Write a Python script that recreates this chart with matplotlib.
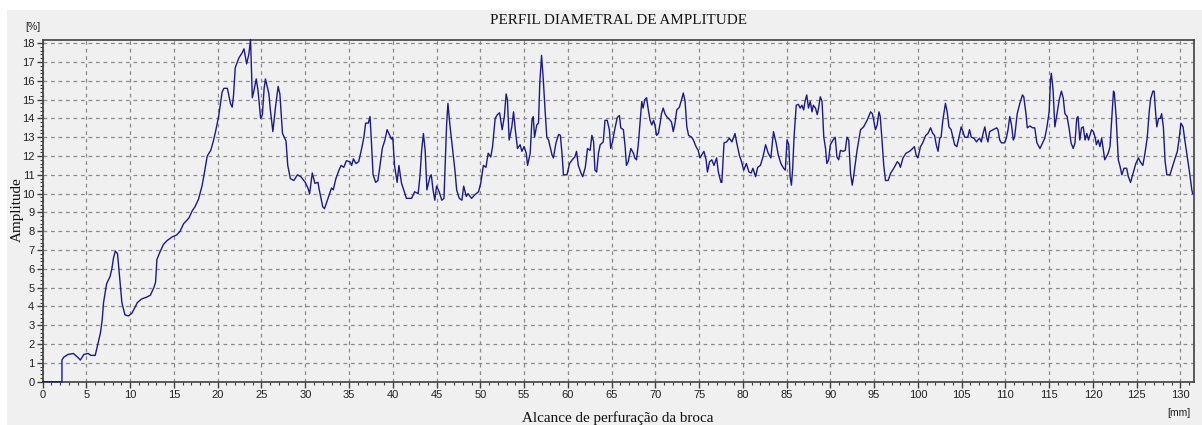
import matplotlib
matplotlib.use("Agg")
import matplotlib.pyplot as plt
from matplotlib.patches import Rectangle
from matplotlib.ticker import MultipleLocator

# drill reach [mm]
depth_mm = [
    0, 2.2, 2.2, 2.4, 2.9, 3.5, 4.0, 4.3, 4.7, 5.2, 5.5, 6.0, 6.2, 6.6, 6.8, 6.95, 7.3, 7.7, 7.9, 8.1,
    8.3, 8.55, 8.8, 9.05, 9.4, 9.8, 10.2, 10.6, 10.8, 11.3, 11.9, 12.3, 12.7, 12.9, 13.05, 13.4, 13.8,
    14.2, 14.8, 15.3, 15.7, 16.1, 16.7, 17.1, 17.4, 17.8, 18.2, 18.4, 18.8, 19.2, 19.5, 19.75, 20.1,
    20.5, 20.7, 21.1, 21.45, 21.65, 21.8, 22.0, 22.4, 22.8, 23.0, 23.3, 23.55, 23.75, 23.95, 24.1,
    24.4, 24.6, 24.9, 25.1, 25.3, 25.45, 25.85, 26.0, 26.3, 26.6, 26.9, 27.1, 27.4, 27.8, 28.0, 28.3,
    28.7, 29.1, 29.5,
    30.0, 30.3, 30.5, 30.8, 31.1, 31.45, 31.6, 32.0, 32.2, 32.6, 33.0, 33.2, 33.5, 33.85, 34.1, 34.4,
    34.7, 35.1, 35.3, 35.5, 35.8, 36.1, 36.4, 36.7, 36.9, 37.2, 37.4, 37.55, 37.75, 38.05, 38.3, 38.5,
    38.8, 39.1, 39.35, 39.65, 39.85, 40.0, 40.2, 40.5, 40.7, 41.0, 41.25, 41.55, 42.15, 42.5, 42.9,
    43.1, 43.3, 43.5, 43.7, 43.9, 44.25, 44.4, 44.6, 44.8, 45.0, 45.3, 45.6, 45.85, 46.15, 46.3,
    46.55, 46.8, 47.1, 47.3, 47.6, 47.9, 48.1, 48.4, 48.6, 49.0, 49.4, 49.8, 50.05, 50.35, 50.65,
    50.9, 51.2, 51.4, 51.7, 51.95, 52.2, 52.5, 52.75, 52.95, 53.1, 53.3, 53.6, 53.8, 54.0, 54.25,
    54.55, 54.75, 55.0, 55.25, 55.4, 55.7, 55.9, 56.05, 56.2, 56.45, 56.65, 56.8, 57.0, 57.2, 57.4,
    57.6, 57.8, 58.2, 58.35, 58.65, 58.95, 59.15, 59.35, 59.5, 59.9, 60.2, 60.5, 60.8, 61.0, 61.2,
    61.5, 61.7, 62.0, 62.25, 62.55, 62.75, 62.95, 63.1, 63.3, 63.5, 63.7,
    64.05, 64.25, 64.5, 64.75, 64.9, 65.1, 65.4, 65.65, 65.9, 66.05, 66.35, 66.55, 66.7, 66.9, 67.2,
    67.5, 67.65, 67.85, 68.05, 68.25, 68.45, 68.6, 68.8, 69.0, 69.2, 69.4, 69.6, 69.8, 69.95, 70.15,
    70.35, 70.55, 70.7, 70.9, 71.1, 71.3, 71.7, 71.85, 72.05, 72.25, 72.45, 72.75, 73.0, 73.2, 73.4,
    73.6, 73.8, 74.15, 74.35, 74.65, 74.9, 75.1, 75.3, 75.55, 75.8, 75.95, 76.2, 76.45, 76.7, 77.0,
    77.2, 77.5, 77.6, 77.85, 78.15, 78.45, 78.75, 78.95, 79.1, 79.3, 79.6, 79.85, 80.1, 80.4, 80.7,
    80.95, 81.15, 81.45, 81.7, 82.0, 82.3, 82.6, 82.9, 83.2, 83.5, 83.8, 84.05, 84.35, 84.65, 84.85,
    85.05, 85.25, 85.4, 85.55, 85.7, 85.85, 86.1, 86.35, 86.55, 86.75, 86.95, 87.1, 87.3, 87.5, 87.7,
    87.9, 88.05, 88.3, 88.5, 88.65, 88.85, 89.05, 89.25, 89.45, 89.6, 89.8, 90.0, 90.3, 90.55, 90.75,
    90.95, 91.15, 91.45, 91.7, 91.9, 92.1, 92.3, 92.5, 92.65, 93.05, 93.45, 93.8, 94.2, 94.6, 94.8,
    94.95, 95.15, 95.35, 95.55, 95.7, 95.9, 96.1, 96.3, 96.6, 96.9, 97.25, 97.65, 97.85, 98.0,
    98.3, 98.65, 99.05, 99.4, 99.6, 99.8, 100.0, 100.3, 100.55, 100.9, 101.15, 101.45, 101.7, 101.9,
    102.1, 102.3, 102.5, 102.65, 102.85, 103.15, 103.35, 103.55, 103.8, 104.0, 104.2, 104.45, 104.7,
    104.95, 105.15, 105.35, 105.55, 105.7, 105.9, 106.1, 106.4, 106.7, 106.85, 107.05, 107.25,
    107.45, 107.65, 107.85, 108.0, 108.2, 108.6, 109.0, 109.15, 109.35, 109.55, 109.9, 110.1, 110.3,
    110.5, 110.7, 110.9, 111.05, 111.35, 111.65, 111.95, 112.1, 112.35, 112.5, 112.8, 113.1, 113.35,
    113.6, 113.95, 114.25, 114.5, 114.75, 115.0, 115.15, 115.25, 115.45, 115.65, 115.85, 116.15,
    116.4, 116.6, 116.8, 117.05, 117.3, 117.5, 117.75, 117.95, 118.15, 118.3, 118.5, 118.7, 118.9,
    119.1, 119.3, 119.5, 119.65, 119.85, 120.05, 120.25, 120.4, 120.6, 120.8, 121.0, 121.2, 121.35,
    121.75, 121.95, 122.15, 122.35, 122.45, 122.65, 122.9, 123.1, 123.3, 123.55, 123.85, 124.05,
    124.3, 124.6, 124.9, 125.2, 125.4, 125.7, 125.95, 126.2, 126.45, 126.6, 126.85, 127.0, 127.1,
    127.3, 127.5, 127.7, 127.85, 128.05, 128.25, 128.45, 128.8, 129.1, 129.4, 129.65, 129.9, 130.05,
    130.3, 130.5, 130.8, 131.05, 131.3, 131.4,
]

# amplitude [%]
amplitude_pct = [
    0, 0, 1.15, 1.3, 1.45, 1.5, 1.3, 1.15, 1.45, 1.5, 1.4, 1.4, 1.8, 2.6, 3.3, 4.2, 5.2, 5.6, 6.0, 6.6,
    6.95, 6.8, 5.5, 4.2, 3.55, 3.5, 3.65, 4.0, 4.2, 4.4, 4.5, 4.6, 5.0, 5.3, 6.5, 6.9, 7.3,
    7.5, 7.7, 7.8, 8.0, 8.4, 8.7, 9.1, 9.3, 9.7, 10.4, 10.9, 12.0, 12.3, 12.8, 13.3, 14.1,
    15.4, 15.6, 15.6, 14.8, 14.6, 15.2, 16.7, 17.2, 17.5, 17.7, 16.9, 17.4, 18.2, 15.1, 15.4,
    16.1, 15.5, 14.0, 14.2, 15.6, 16.1, 15.3, 14.5, 13.3, 14.6, 15.7, 15.3, 13.2, 12.8, 11.5, 10.8,
    10.7, 11.0, 10.9,
    10.6, 10.3, 10.0, 11.1, 10.55, 10.6, 10.2, 9.3, 9.2, 9.75, 10.3, 10.2, 10.8, 11.25, 11.5, 11.4,
    11.75, 11.7, 11.5, 11.85, 11.6, 11.7, 12.3, 13.0, 13.75, 13.75, 14.1, 12.85, 11.0, 10.6, 10.7, 11.35,
    12.4, 12.85, 13.4, 13.1, 12.9, 13.0, 11.5, 10.6, 11.5, 10.55, 10.2, 9.75, 9.75, 10.1, 10.0,
    10.9, 12.3, 13.2, 12.3, 10.2, 10.9, 11.0, 10.2, 9.65, 10.4, 10.1, 9.65, 9.75, 13.65, 14.8,
    13.55, 12.5, 11.25, 10.2, 9.75, 9.65, 10.4, 9.85, 10.0, 9.75, 9.95, 10.1, 10.55, 11.5, 11.4,
    12.15, 11.95, 12.5, 14.0, 14.2, 14.3, 13.4, 14.1, 15.3, 15.0, 12.85, 13.55, 14.35, 13.4, 12.4,
    12.6, 12.25, 12.5, 12.15, 11.5, 12.15, 13.9, 14.1, 13.0, 13.65, 13.75, 15.9, 17.35, 16.05, 14.45,
    13.0, 12.85, 12.05, 11.9, 12.7, 13.15, 13.1, 12.05, 11.0, 11.0, 11.6, 11.8, 11.95, 12.25, 11.5,
    11.1, 10.9, 11.4, 12.4, 12.3, 13.1, 12.75, 11.25, 11.15, 12.15, 12.6,
    12.75, 13.9, 13.9, 13.4, 12.4, 12.75, 13.5, 14.05, 14.15, 13.5, 13.4, 12.5, 11.5, 11.7, 12.4,
    12.15, 11.9, 11.8, 12.6, 13.75, 14.9, 14.55, 15.0, 15.1, 14.45, 13.9, 13.65, 13.9, 13.65, 13.1,
    13.2, 13.75, 14.25, 14.55, 14.25, 14.1, 13.9, 13.8, 13.3, 13.75, 14.45, 14.6, 15.0, 15.35, 14.9,
    13.55, 13.1, 13.0, 12.85, 12.5, 12.3, 11.9, 12.05, 12.25, 11.8, 11.15, 11.7, 11.8, 11.5, 11.9,
    11.15, 10.6, 10.6, 12.7, 12.75, 12.95, 12.75, 13.0, 13.2, 12.7, 12.05, 11.7, 11.25, 11.6, 11.15,
    11.1, 11.35, 10.9, 11.4, 11.5, 11.95, 12.6, 12.15, 11.9, 13.3, 12.7, 12.05, 11.6, 11.35, 11.25,
    12.85, 12.6, 10.9, 10.45, 11.4, 13.0, 14.7, 14.75, 14.55, 14.7, 14.45, 14.9, 15.25, 14.55, 14.9,
    14.35, 14.7, 14.55, 14.2, 14.55, 15.15, 14.9, 13.0, 12.4, 11.6, 11.8, 12.6, 12.85, 13.0, 11.95,
    11.8, 12.3, 12.25, 12.3, 13.0, 12.85, 11.1, 10.45, 10.9, 12.3, 13.4, 13.55, 13.9, 14.35, 14.25,
    13.9, 13.4, 13.65, 14.35, 14.1, 12.85, 11.5, 10.7, 10.7, 11.1, 11.35, 11.7, 11.6, 11.4,
    11.9, 12.15, 12.25, 12.4, 12.5, 12.05, 11.9, 12.5, 12.7, 13.1, 13.2, 13.5, 13.2, 13.1,
    12.6, 12.25, 12.95, 13.0, 13.9, 14.8, 14.35, 13.55, 13.4, 13.0, 12.6, 12.5, 13.0,
    13.55, 13.3, 13.0, 13.0, 13.0, 13.4, 13.0, 12.95, 12.75, 12.85, 12.95, 12.75,
    13.2, 13.55, 13.0, 12.75, 13.3, 13.4, 13.5, 13.4, 12.85, 12.7, 12.7, 12.95, 13.4,
    14.1, 13.65, 12.85, 13.0, 14.25, 14.8, 15.25, 15.15, 14.25, 13.5, 13.6, 13.5, 13.5,
    12.7, 12.4, 12.7, 12.95, 13.55, 14.35, 16.05, 16.4, 15.5, 13.55, 14.1, 15.0,
    15.45, 15.1, 14.25, 14.1, 13.4, 12.7, 12.4, 12.7, 14.0, 14.1, 12.85, 13.5, 13.55,
    12.85, 13.2, 12.85, 13.1, 13.4, 13.3, 13.0, 12.6, 12.85, 12.5, 12.95, 12.3, 11.8,
    12.15, 12.5, 14.0, 15.45, 15.35, 14.1, 11.8, 11.45, 11.0, 11.35, 11.35, 10.9,
    10.6, 11.1, 11.6, 11.9, 11.7, 11.5, 12.15, 12.95, 14.45, 15.05, 15.45, 15.45, 14.7,
    13.55, 14.0, 14.0, 14.25, 13.55, 11.7, 11.0, 11.0, 11.45, 11.9, 12.25, 13.1, 13.75,
    13.55, 12.85, 11.9, 11.1, 10.2, 10.0,
]

x_ticks = list(range(0, 131, 5))
y_ticks = list(range(0, 19))

bg = "#f0f0f0"
W, H = 1202, 425

fig = plt.figure(figsize=(W / 100, H / 100), dpi=100, facecolor="white")
fig.patches.append(Rectangle((7 / W, 0), 1 - 7 / W, 1 - 10 / H, transform=fig.transFigure,
                             facecolor=bg, edgecolor="none", zorder=-10))

ax = fig.add_axes([42.7 / W, 1 - 381.7 / H, (1194 - 42.7) / W, (381.7 - 40) / H])
ax.set_facecolor(bg)

ax.plot(depth_mm, amplitude_pct, color="#1a1a8c", linewidth=1.0, zorder=4, clip_on=False)

ax.set_xlim(0, 131.55)
ax.set_ylim(0, 18.17)
ax.set_xticks(x_ticks)
ax.set_yticks(y_ticks)
ax.xaxis.set_minor_locator(MultipleLocator(1))
ax.yaxis.set_minor_locator(MultipleLocator(0.2))

tick_font = {"family": "Liberation Sans", "size": 8}
ax.set_xticklabels([str(v) for v in x_ticks], fontdict=tick_font, color="#202020")
ax.set_yticklabels([str(v) for v in y_ticks], fontdict=tick_font, color="#202020")
ax.tick_params(axis="both", which="major", direction="out", length=4, width=1, color="#404040", pad=2)
ax.tick_params(axis="both", which="minor", direction="out", length=2, width=0.8, color="#404040")

ax.grid(True, which="major", color="#8a8a8a", linestyle=(0, (3, 3)), linewidth=0.9)
for s in ax.spines.values():
    s.set_color("#404040")
    s.set_linewidth(1.2)

serif = "Liberation Serif"
fig.text(0.5 * (42.7 + 1194) / W, 1 - 21 / H, "PERFIL DIAMETRAL DE AMPLITUDE",
         ha="center", va="center", family=serif, fontsize=10.9, color="#101010")
fig.text(17 / W, 1 - 210 / H, "Amplitude", rotation=90, ha="center", va="center",
         family=serif, fontsize=10.9, color="#101010")
fig.text(618 / W, 1 - 418 / H, "Alcance de perfuração da broca", ha="center", va="center",
         family=serif, fontsize=10.9, color="#101010")
fig.text(25 / W, 1 - 27 / H, "[%]", ha="left", va="center", family="Liberation Sans",
         fontsize=7.5, color="#202020")
fig.text(1190 / W, 1 - 413 / H, "[mm]", ha="right", va="center", family="Liberation Sans",
         fontsize=7.5, color="#202020")

fig.savefig("out.png", dpi=100, facecolor=fig.get_facecolor())
